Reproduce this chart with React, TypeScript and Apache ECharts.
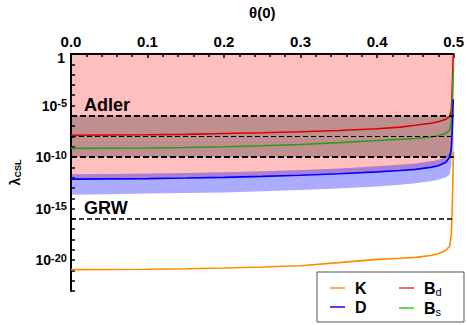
import React, { useEffect, useRef } from 'react';
import * as echarts from 'echarts';

// theta(0) sample points
const theta = [0, 0.05, 0.1, 0.15, 0.2, 0.25, 0.3, 0.35, 0.4, 0.43, 0.45, 0.47, 0.48, 0.49, 0.495, 0.497, 0.498, 0.499, 0.4995, 0.5];
// log10(lambda_CSL) values
const kVals = [-20.93, -20.92, -20.89, -20.84, -20.77, -20.67, -20.55, -20.25, -19.93, -19.82, -19.74, -19.55, -19.39, -19.04, -18.65, -17.6, -15.6, -12.5, -10.5, -9.5];
const bdVals = [-7.88, -7.86, -7.84, -7.8, -7.72, -7.64, -7.55, -7.42, -7.26, -7.1, -6.92, -6.72, -6.58, -6.33, -6.05, -5.4, -4.0, -1.5, -0.3, 0];
const bsVals = [-9.16, -9.15, -9.12, -9.07, -9.0, -8.9, -8.78, -8.6, -8.4, -8.28, -8.2, -8.06, -7.93, -7.7, -7.35, -6.6, -5.3, -3.2, -1.8, -1.5];
const dVals = [-12.14, -12.12, -12.09, -12.04, -11.97, -11.88, -11.77, -11.62, -11.44, -11.3, -11.2, -11.0, -10.85, -10.5, -10.0, -9.2, -7.8, -5.8, -4.6, -4.4];
const dBandUpper = [-11.66, -11.64, -11.6, -11.55, -11.48, -11.38, -11.26, -11.1, -10.9, -10.75, -10.62, -10.42, -10.28, -10.0, -9.6, -8.9, -7.6, -5.7, -4.6, -4.4];
const dBandLower = [-13.65, -13.6, -13.55, -13.5, -13.43, -13.33, -13.2, -13.05, -12.85, -12.68, -12.55, -12.35, -12.2, -11.95, -11.7, -10.8, -9.3, -7.0, -5.0, -4.5];
const adlerUpper = -6;
const adlerCenter = -8;
const adlerLower = -10;
const grwLevel = -16;
const yMin = -23;
const yMax = 0;
const topYLabel = '1';

const pair = (ys: number[]) => theta.map((t, i) => [t, ys[i]]);
const FONT = 'Liberation Sans, Arial, Helvetica, sans-serif';

const legendFormatter = (name: string) => {
  if (name === 'Bd') return '{b|B}{s|d}';
  if (name === 'Bs') return '{b|B}{s|s}';
  return '{b|' + name + '}';
};
const legendRich = {
  b: { fontSize: 16, fontWeight: 'bold', fontFamily: FONT, color: '#000', lineHeight: 18, padding: [0, 0, 0, 5] },
  s: { fontSize: 11, fontFamily: FONT, color: '#000', verticalAlign: 'bottom', lineHeight: 18 },
};

export default function App() {
  const ref = useRef<HTMLDivElement>(null);
  useEffect(() => {
    if (!ref.current) return;
    const chart = echarts.init(ref.current, null, { renderer: 'svg' });
    chart.setOption({
      animation: false,
      backgroundColor: '#fff',
      grid: { left: 69, right: 11, top: 52, bottom: 34, containLabel: false },
      xAxis: {
        type: 'value',
        position: 'top',
        min: 0,
        max: 0.5,
        interval: 0.1,
        name: 'θ(0)',
        nameLocation: 'middle',
        nameGap: 34,
        nameTextStyle: { fontFamily: FONT, fontWeight: 'bold', fontSize: 15, color: '#000' },
        axisLine: { show: true, onZero: false, lineStyle: { color: '#000', width: 2 } },
        axisTick: { show: true, inside: true, length: 4, lineStyle: { color: '#000', width: 1.5 } },
        minorTick: { show: true, splitNumber: 5, length: 3, lineStyle: { color: '#000', width: 1.5 } },
        axisLabel: {
          margin: 5,
          formatter: (v: number) => v.toFixed(1),
          fontFamily: FONT,
          fontWeight: 'bold',
          fontSize: 15,
          color: '#000',
        },
        splitLine: { show: false },
      },
      yAxis: {
        type: 'value',
        min: yMin,
        max: yMax,
        interval: 1,
        name: '{l|λ}{s|CSL}',
        nameLocation: 'middle',
        nameRotate: 90,
        nameGap: 49,
        nameTextStyle: {
          rich: {
            l: { fontSize: 14, fontWeight: 'bold', fontFamily: FONT, color: '#000' },
            s: { fontSize: 9, fontWeight: 'bold', fontFamily: FONT, color: '#000', verticalAlign: 'bottom' },
          },
        },
        axisLine: { show: true, onZero: false, lineStyle: { color: '#000', width: 2 } },
        axisTick: { show: true, inside: true, length: 4, lineStyle: { color: '#000', width: 1.5 } },
        axisLabel: {
          margin: 4,
          formatter: (v: number) => {
            if (v !== 0 && v % 5 === 0) return '{b|10}{s|' + v + '}';
            return '';
          },
          rich: {
            b: { fontSize: 14, fontWeight: 'bold', fontFamily: FONT, color: '#000', lineHeight: 16 },
            s: { fontSize: 11, fontWeight: 'bold', fontFamily: FONT, color: '#000', verticalAlign: 'top', lineHeight: 16 },
          },
        },
        splitLine: { show: false },
      },
      legend: [
        {
          data: [
            { name: 'K', itemStyle: { color: '#FFA860' } },
            { name: 'D', itemStyle: { color: '#4848FF' } },
          ],
          orient: 'vertical',
          left: 330,
          top: 280,
          padding: 0,
          itemWidth: 15,
          itemHeight: 2,
          itemGap: 3,
          icon: 'rect',
          selectedMode: false,
          formatter: legendFormatter,
          textStyle: { rich: legendRich },
        },
        {
          data: [
            { name: 'Bd', itemStyle: { color: '#F06A6A' } },
            { name: 'Bs', itemStyle: { color: '#5ADD5A' } },
          ],
          orient: 'vertical',
          left: 399,
          top: 280,
          padding: 0,
          itemWidth: 15,
          itemHeight: 2,
          itemGap: 3,
          icon: 'rect',
          selectedMode: false,
          formatter: legendFormatter,
          textStyle: { rich: legendRich },
        },
      ],
      graphic: [
        {
          type: 'rect',
          z: 100,
          shape: { x: 317, y: 272, width: 147, height: 50 },
          style: { fill: 'none', stroke: '#555', lineWidth: 1 },
        },
        {
          type: 'text',
          z: 100,
          x: 65,
          y: 51,
          style: { text: topYLabel, fontSize: 14, fontWeight: 'bold', fontFamily: FONT, fill: '#000', verticalAlign: 'top', align: 'right' },
        },
        {
          type: 'text',
          z: 100,
          x: 84,
          y: 105,
          style: { text: 'Adler', fontSize: 18, fontWeight: 'bold', fontFamily: FONT, fill: '#000', verticalAlign: 'middle', align: 'left' },
        },
        {
          type: 'text',
          z: 100,
          x: 84,
          y: 208,
          style: { text: 'GRW', fontSize: 18, fontWeight: 'bold', fontFamily: FONT, fill: '#000', verticalAlign: 'middle', align: 'left' },
        },
      ],
      series: [
        {
          name: 'excluded',
          type: 'custom',
          coordinateSystem: 'cartesian2d',
          silent: true,
          z: 0,
          data: [[0, 0]],
          renderItem: (_params: any, api: any) => {
            const pinkPts = [
              ...theta.map((t) => api.coord([t, yMax])),
              ...theta.map((t, i) => api.coord([t, dVals[i]])).reverse(),
            ];
            const a1 = api.coord([0, adlerUpper]);
            const a2 = api.coord([0.5, adlerLower]);
            return {
              type: 'group',
              children: [
                { type: 'polygon', shape: { points: pinkPts }, style: { fill: 'rgba(255,0,0,0.25)' } },
                {
                  type: 'rect',
                  shape: { x: a1[0], y: a1[1], width: a2[0] - a1[0], height: a2[1] - a1[1] },
                  style: { fill: 'rgba(0,0,0,0.25)' },
                },
              ],
            };
          },
        },
        {
          name: 'D band',
          type: 'custom',
          coordinateSystem: 'cartesian2d',
          silent: true,
          z: 1,
          data: [[0, 0]],
          renderItem: (_params: any, api: any) => {
            const pts = [
              ...theta.map((t, i) => api.coord([t, dBandUpper[i]])),
              ...theta.map((t, i) => api.coord([t, dBandLower[i]])).reverse(),
            ];
            return { type: 'polygon', shape: { points: pts }, style: { fill: 'rgba(0,0,255,0.33)' } };
          },
        },
        {
          name: 'K',
          type: 'line',
          data: pair(kVals),
          symbol: 'none',
          z: 2,
          itemStyle: { color: '#FF8A00' },
          lineStyle: { color: '#FF8A00', width: 1.6 },
        },
        {
          name: 'Bd',
          type: 'line',
          data: pair(bdVals),
          symbol: 'none',
          z: 2,
          itemStyle: { color: '#D80000' },
          lineStyle: { color: '#D80000', width: 1.6 },
        },
        {
          name: 'Bs',
          type: 'line',
          data: pair(bsVals),
          symbol: 'none',
          z: 2,
          itemStyle: { color: '#2E9A16' },
          lineStyle: { color: '#2E9A16', width: 1.6 },
        },
        {
          name: 'D',
          type: 'line',
          data: pair(dVals),
          symbol: 'none',
          z: 2,
          itemStyle: { color: '#0000FF' },
          lineStyle: { color: '#0000FF', width: 1.6 },
          markLine: {
            silent: true,
            symbol: 'none',
            label: { show: false },
            data: [
              { yAxis: adlerUpper, lineStyle: { color: '#000', width: 2, type: [6, 3] } },
              { yAxis: adlerCenter, lineStyle: { color: '#000', width: 1.2, type: [5, 3] } },
              { yAxis: adlerLower, lineStyle: { color: '#000', width: 2, type: [6, 3] } },
              { yAxis: grwLevel, lineStyle: { color: '#000', width: 1.6, type: [5, 3] } },
            ],
          },
        },
      ],
    });
    return () => chart.dispose();
  }, []);
  return <div ref={ref} style={{ position: 'fixed', left: 0, top: 0, width: 467, height: 325, background: '#fff' }} />;
}
